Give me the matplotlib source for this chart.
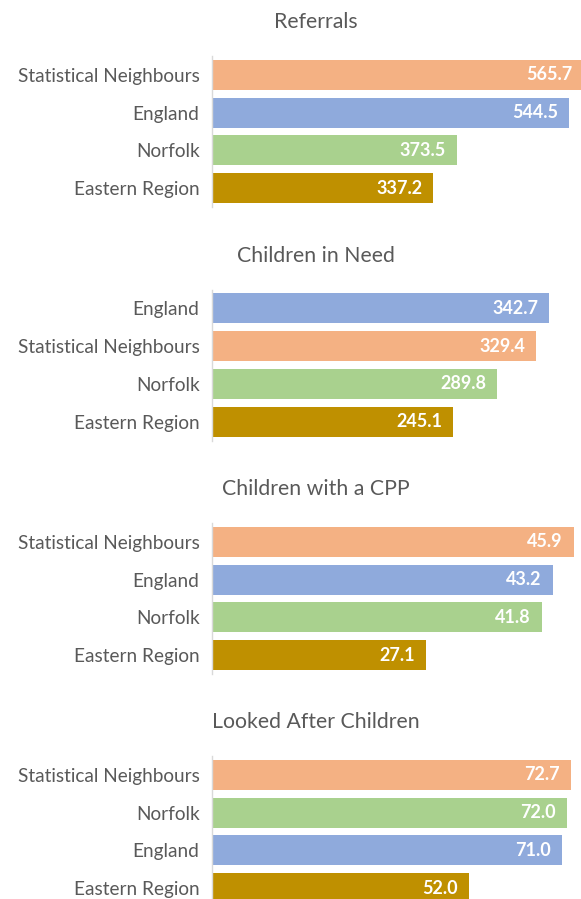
import matplotlib
matplotlib.use("Agg")
import matplotlib.pyplot as plt

plt.rcParams['font.family'] = ['Lato', 'DejaVu Sans']

# colours per category
colours = {
    'Statistical Neighbours': '#F4B183',
    'England': '#8FAADC',
    'Norfolk': '#A9D18E',
    'Eastern Region': '#BF9000',
}

titles = ['Referrals', 'Children in Need', 'Children with a CPP', 'Looked After Children']

referrals_cats = ['Statistical Neighbours', 'England', 'Norfolk', 'Eastern Region']
referrals_vals = [565.7, 544.5, 373.5, 337.2]

cin_cats = ['England', 'Statistical Neighbours', 'Norfolk', 'Eastern Region']
cin_vals = [342.7, 329.4, 289.8, 245.1]

cpp_cats = ['Statistical Neighbours', 'England', 'Norfolk', 'Eastern Region']
cpp_vals = [45.9, 43.2, 41.8, 27.1]

lac_cats = ['Statistical Neighbours', 'Norfolk', 'England', 'Eastern Region']
lac_vals = [72.7, 72.0, 71.0, 52.0]

panels = [(referrals_cats, referrals_vals, 562.5),
          (cin_cats, cin_vals, 375.0),
          (cpp_cats, cpp_vals, 46.8),
          (lac_cats, lac_vals, 74.8)]

W, H = 581, 899
fig = plt.figure(figsize=(W / 100, H / 100), dpi=100)

tops = [56, 289.5, 523, 756]
ax_h = 151
left = 212

grey = '#595959'

for (cats, vals, xmax), title, top in zip(panels, titles, tops):
    ax = fig.add_axes([left / W, (H - top - ax_h) / H, (W - left) / W, ax_h / H])
    ypos = range(len(cats))
    ax.barh(ypos, vals, height=0.8, color=[colours[c] for c in cats])
    ax.set_xlim(0, xmax)
    ax.set_ylim(len(cats) - 0.5, -0.5)
    ax.set_yticks(list(ypos))
    ax.set_yticklabels(cats, fontsize=13.7, color=grey)
    ax.tick_params(axis='y', length=0, pad=9)
    ax.set_xticks([])
    for s in ['top', 'right', 'bottom']:
        ax.spines[s].set_visible(False)
    ax.spines['left'].set_color('#D9D9D9')
    ax.spines['left'].set_linewidth(1.0)
    # value labels inside bar ends, offset in pixels
    px = xmax / (W - left)
    for y, v in zip(ypos, vals):
        ax.text(v - 11 * px, y, f'{v:.1f}', ha='right', va='center',
                color='white', fontsize=13, fontweight='bold', clip_on=False)
    fig.text(316 / W, 1 - (top - 34) / H, title, ha='center', va='center',
             fontsize=15.3, color=grey)

fig.savefig('out.png', dpi=100)
